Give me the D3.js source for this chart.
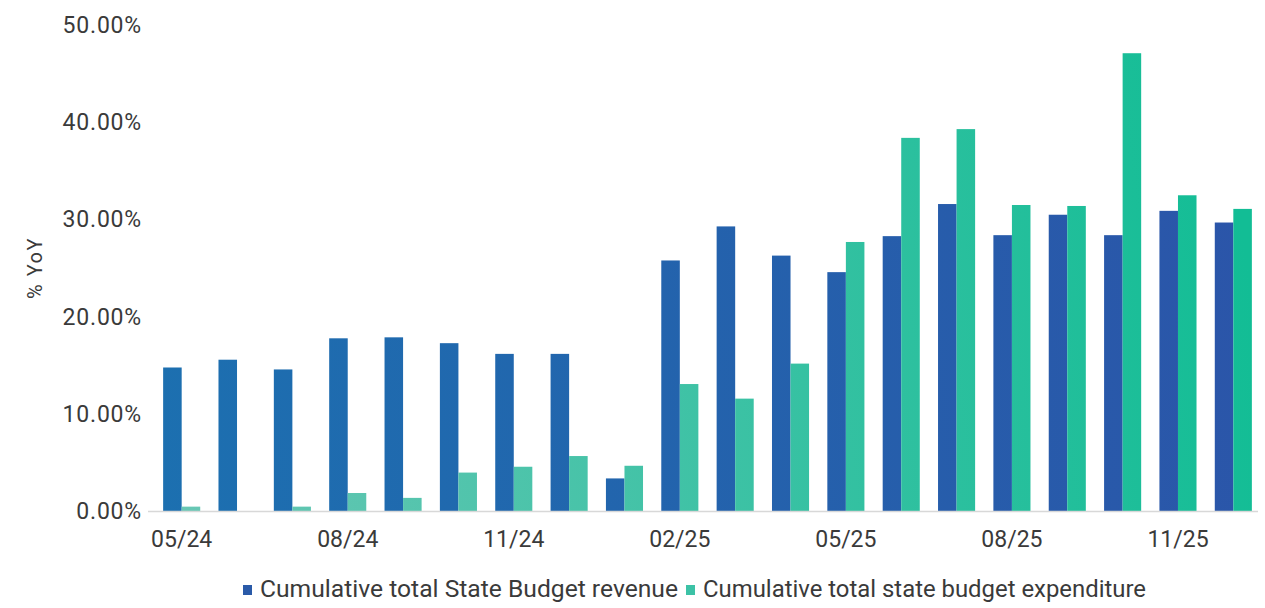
<!DOCTYPE html>
<html>
<head>
<meta charset="utf-8">
<script src="https://cdn.jsdelivr.net/npm/d3@7"></script>
<style>
  body { margin: 0; background: #fff; }
  text { font-family: Roboto, "DejaVu Sans", sans-serif; }
</style>
</head>
<body>
<div id="chart"></div>
<script>
// Months shown on the x axis
var months = ["05/24", "06/24", "07/24", "08/24", "09/24", "10/24", "11/24", "12/24",
              "01/25", "02/25", "03/25", "04/25", "05/25", "06/25", "07/25", "08/25",
              "09/25", "10/25", "11/25", "12/25"];

// Cumulative revenue, % YoY
var revenue = [14.8, 15.6, 14.6, 17.8, 17.9, 17.3, 16.2, 16.2,
               3.4, 25.8, 29.3, 26.3, 24.6, 28.3, 31.6, 28.4,
               30.5, 28.4, 30.9, 29.7];

// Cumulative expenditure, % YoY
var expenditure = [0.5, 0.0, 0.5, 1.9, 1.4, 4.0, 4.6, 5.7,
                   4.7, 13.1, 11.6, 15.2, 27.7, 38.4, 39.3, 31.5,
                   31.4, 47.1, 32.5, 31.1];

var tickMonths = ["05/24", "08/24", "11/24", "02/25", "05/25", "08/25", "11/25"];
var yTicks = [0, 10, 20, 30, 40, 50];
var seriesNames = ["Cumulative total State Budget revenue", "Cumulative total state budget expenditure"];

var w = 1265, h = 608;
var padLeft = 154, padRight = 1261, padTop = 25, baseY = 511.5;

var svg = d3.select("#chart").append("svg")
    .attr("width", w)
    .attr("height", h);

// Gradients for the two series (lighter/tealer at left and bottom, deeper at right and top)
var defs = svg.append("defs");
function grad(id, c1, c2) {
  var g = defs.append("linearGradient")
      .attr("id", id)
      .attr("gradientUnits", "userSpaceOnUse")
      .attr("x1", padLeft).attr("y1", baseY)
      .attr("x2", padRight).attr("y2", baseY - 150);
  g.append("stop").attr("offset", "0%").attr("stop-color", c1);
  g.append("stop").attr("offset", "100%").attr("stop-color", c2);
}
grad("gRev", "#1c70b0", "#2b55a9");
grad("gExp", "#6ac7b5", "#12bd95");

var x0 = d3.scaleBand()
    .domain(months)
    .range([padLeft, padRight])
    .paddingInner(0.33)
    .paddingOuter(0.165);

var x1 = d3.scaleBand()
    .domain([0, 1])
    .range([0, x0.bandwidth()]);

var y = d3.scaleLinear()
    .domain([0, 50])
    .range([baseY, padTop]);

// Y axis labels
var yAxis = d3.axisLeft(y)
    .tickValues(yTicks)
    .tickFormat(function(d) { return d.toFixed(2) + "%"; })
    .tickSize(0)
    .tickPadding(0);

var gy = svg.append("g")
    .attr("transform", "translate(142,0)")
    .call(yAxis);
gy.select(".domain").remove();
gy.selectAll("text")
    .attr("font-size", "23px")
    .attr("letter-spacing", "0.8px")
    .attr("fill", "#3a3a3a");

// Y axis title
svg.append("text")
    .attr("transform", "translate(42,268) rotate(-90)")
    .attr("text-anchor", "middle")
    .attr("font-size", "20px")
    .attr("letter-spacing", "1.5px")
    .attr("fill", "#3a3a3a")
    .text("% YoY");

// Bars (placed in svg coordinates so the gradients span the whole chart)
svg.selectAll("rect.rev")
    .data(months)
    .enter()
    .append("rect")
    .attr("class", "rev")
    .attr("x", function(d) { return x0(d) + x1(0); })
    .attr("width", x1.bandwidth())
    .attr("y", function(d, i) { return y(revenue[i]); })
    .attr("height", function(d, i) { return y(0) - y(revenue[i]); })
    .attr("fill", "url(#gRev)");

svg.selectAll("rect.exp")
    .data(months)
    .enter()
    .append("rect")
    .attr("class", "exp")
    .attr("x", function(d) { return x0(d) + x1(1); })
    .attr("width", x1.bandwidth())
    .attr("y", function(d, i) { return y(expenditure[i]); })
    .attr("height", function(d, i) { return y(0) - y(expenditure[i]); })
    .attr("fill", "url(#gExp)");

// X axis
var xAxis = d3.axisBottom(x0)
    .tickValues(tickMonths)
    .tickSize(0)
    .tickPadding(19);

var gx = svg.append("g")
    .attr("transform", "translate(0," + baseY + ")")
    .call(xAxis);
gx.select(".domain")
    .attr("stroke", "#d8d8d8")
    .attr("stroke-width", 1.5)
    .attr("d", "M148,0H1258");
gx.selectAll("text")
    .attr("font-size", "23px")
    .attr("fill", "#3a3a3a");

// Legend
var legend = svg.append("g").attr("transform", "translate(0,597)");
var legendX = [243, 686];
var legendW = [418, 443];
var legendFill = ["#2a5aa8", "#3cc2a6"];
seriesNames.forEach(function(name, i) {
  legend.append("rect")
      .attr("x", legendX[i])
      .attr("y", -12)
      .attr("width", 9)
      .attr("height", 10)
      .attr("fill", legendFill[i]);
  legend.append("text")
      .attr("x", legendX[i] + 17)
      .attr("y", 0)
      .attr("font-size", "24px")
      .attr("textLength", legendW[i])
      .attr("lengthAdjust", "spacingAndGlyphs")
      .attr("fill", "#3a3a3a")
      .text(name);
});
</script>
</body>
</html>
